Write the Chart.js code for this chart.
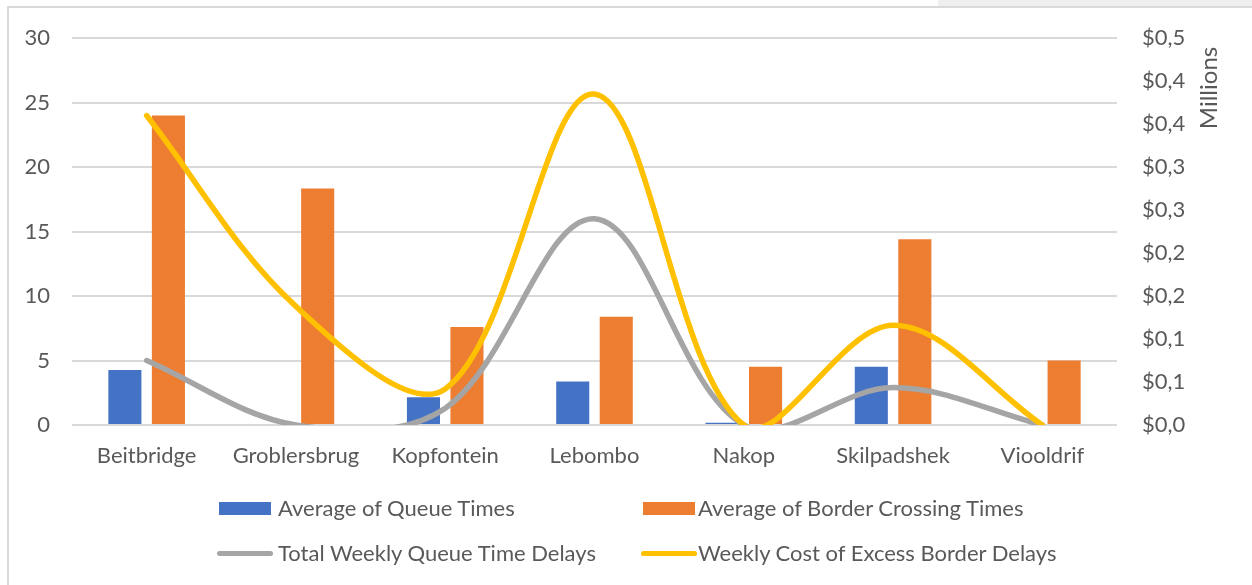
<!DOCTYPE html>
<html>
<head>
<meta charset="utf-8">
<script src="https://cdn.jsdelivr.net/npm/chart.js@4.4.1/dist/chart.umd.min.js"></script>
<style>
  html, body { margin: 0; padding: 0; background: #ffffff; }
  #wrap { position: relative; width: 1252px; height: 585px; overflow: hidden; font-family: Lato, "Open Sans", sans-serif; }
  #band { position: absolute; left: 938px; top: 0; width: 314px; height: 6px; background: #efefef; }
  #frame { position: absolute; left: 7px; top: 6px; width: 1400px; height: 800px;
           border-left: 2px solid #d9d9d9; border-top: 2px solid #d9d9d9; }
  #chart { position: absolute; left: 0; top: 0; }
  .lg-item { position: absolute; height: 30px; font-size: 22px; color: #595959; white-space: nowrap; }
  .lg-box { position: absolute; }
  .lg-text { position: absolute; line-height: 30px; top: 0; }
</style>
</head>
<body>
<div id="wrap">
  <div id="band"></div>
  <div id="frame"></div>
  <canvas id="chart" width="1252" height="585"></canvas>
  <div id="legend"></div>
</div>
<script>
// Border posts
const categories = ['Beitbridge', 'Groblersbrug', 'Kopfontein', 'Lebombo', 'Nakop', 'Skilpadshek', 'Viooldrif'];

// Hours (left axis)
const queueTimeAvg    = [4.26, 0, 2.15, 3.38, 0.18, 4.51, 0];
const crossingTimeAvg = [24.0, 18.35, 7.6, 8.4, 4.51, 14.4, 5.0];
const queueDelayTotal = [5.0, 0, 1.3, 16.0, 0, 2.9, 0];

// Millions of dollars (right axis)
const excessDelayCost = [0.36, 0.138, 0.042, 0.385, 0, 0.116, 0];

// Right axis labels, one decimal with a comma separator
const costTickLabels = ['$0,0', '$0,1', '$0,1', '$0,2', '$0,2', '$0,3', '$0,3', '$0,4', '$0,4', '$0,5'];

const FONT = 'Lato, "Open Sans", sans-serif';
const TEXT = '#595959';
const SIZE = 22;

const unitTitle = {
  id: 'unitTitle',
  afterDraw(chart) {
    const ctx = chart.ctx;
    ctx.save();
    ctx.translate(1209, 88);
    ctx.rotate(-Math.PI / 2);
    ctx.font = '24px ' + FONT;
    ctx.fillStyle = TEXT;
    ctx.textAlign = 'center';
    ctx.textBaseline = 'middle';
    ctx.fillText('Millions', 0, 0);
    ctx.restore();
  }
};

const chart = new Chart(document.getElementById('chart'), {
  data: {
    labels: categories,
    datasets: [
      { type: 'bar', label: 'Average of Queue Times', data: queueTimeAvg,
        backgroundColor: '#4472C4', yAxisID: 'y', order: 2,
        categoryPercentage: 0.583, barPercentage: 0.76 },
      { type: 'bar', label: 'Average of Border Crossing Times', data: crossingTimeAvg,
        backgroundColor: '#ED7D31', yAxisID: 'y', order: 2,
        categoryPercentage: 0.583, barPercentage: 0.76 },
      { type: 'line', label: 'Total Weekly Queue Time Delays', data: queueDelayTotal,
        borderColor: '#A5A5A5', backgroundColor: '#A5A5A5', borderWidth: 5.5,
        tension: 0.35, pointRadius: 0, pointHoverRadius: 0, fill: false,
        borderCapStyle: 'round', borderJoinStyle: 'round', yAxisID: 'y', order: 1 },
      { type: 'line', label: 'Weekly Cost of Excess Border Delays', data: excessDelayCost,
        borderColor: '#FFC000', backgroundColor: '#FFC000', borderWidth: 5.5,
        tension: 0.35, pointRadius: 0, pointHoverRadius: 0, fill: false,
        borderCapStyle: 'round', borderJoinStyle: 'round', yAxisID: 'y1', order: 0 }
    ]
  },
  options: {
    responsive: false,
    animation: false,
    elements: { line: { capBezierPoints: false } },
    layout: { padding: { top: 35, bottom: 100, left: 0, right: 0 } },
    plugins: { legend: { display: false }, tooltip: { enabled: false } },
    scales: {
      x: {
        grid: { display: false, drawTicks: false },
        border: { display: false },
        ticks: { font: { family: FONT, size: SIZE }, color: TEXT, padding: 18, maxRotation: 0 },
        afterFit(s) { s.height = 60; }
      },
      y: {
        position: 'left', min: 0, max: 30,
        grid: { color: '#d9d9d9', lineWidth: 2, drawTicks: false },
        border: { display: false },
        ticks: { stepSize: 5, font: { family: FONT, size: SIZE }, color: TEXT, padding: 22 },
        afterFit(s) { s.width = 72; }
      },
      y1: {
        position: 'right', min: 0, max: 0.45,
        grid: { display: false, drawOnChartArea: false, drawTicks: false },
        border: { display: false },
        ticks: { stepSize: 0.05, font: { family: FONT, size: SIZE }, color: TEXT, padding: 25,
                 callback: (v, i) => costTickLabels[i] },
        afterFit(s) { s.width = 135; }
      }
    }
  },
  plugins: [unitTitle]
});

// Two-column legend below the plot
const legendSlots = [
  { x: 219, y: 493 }, { x: 643, y: 493 },
  { x: 219, y: 538 }, { x: 643, y: 538 }
];
const legendEl = document.getElementById('legend');
chart.data.datasets.forEach((ds, i) => {
  const slot = legendSlots[i];
  const item = document.createElement('div');
  item.className = 'lg-item';
  item.style.left = slot.x + 'px';
  item.style.top = slot.y + 'px';
  item.style.width = '440px';
  const box = document.createElement('div');
  box.className = 'lg-box';
  if (ds.type === 'bar') {
    box.style.cssText = 'left:0;top:9px;width:52px;height:13px;background:' + ds.backgroundColor;
  } else {
    box.style.cssText = 'left:-2px;top:13px;width:56px;height:5px;border-radius:3px;background:' + ds.borderColor;
  }
  const txt = document.createElement('span');
  txt.className = 'lg-text';
  txt.style.left = (i % 2 === 0 ? 59 : 55) + 'px';
  txt.textContent = ds.label;
  item.appendChild(box);
  item.appendChild(txt);
  legendEl.appendChild(item);
});
</script>
</body>
</html>
